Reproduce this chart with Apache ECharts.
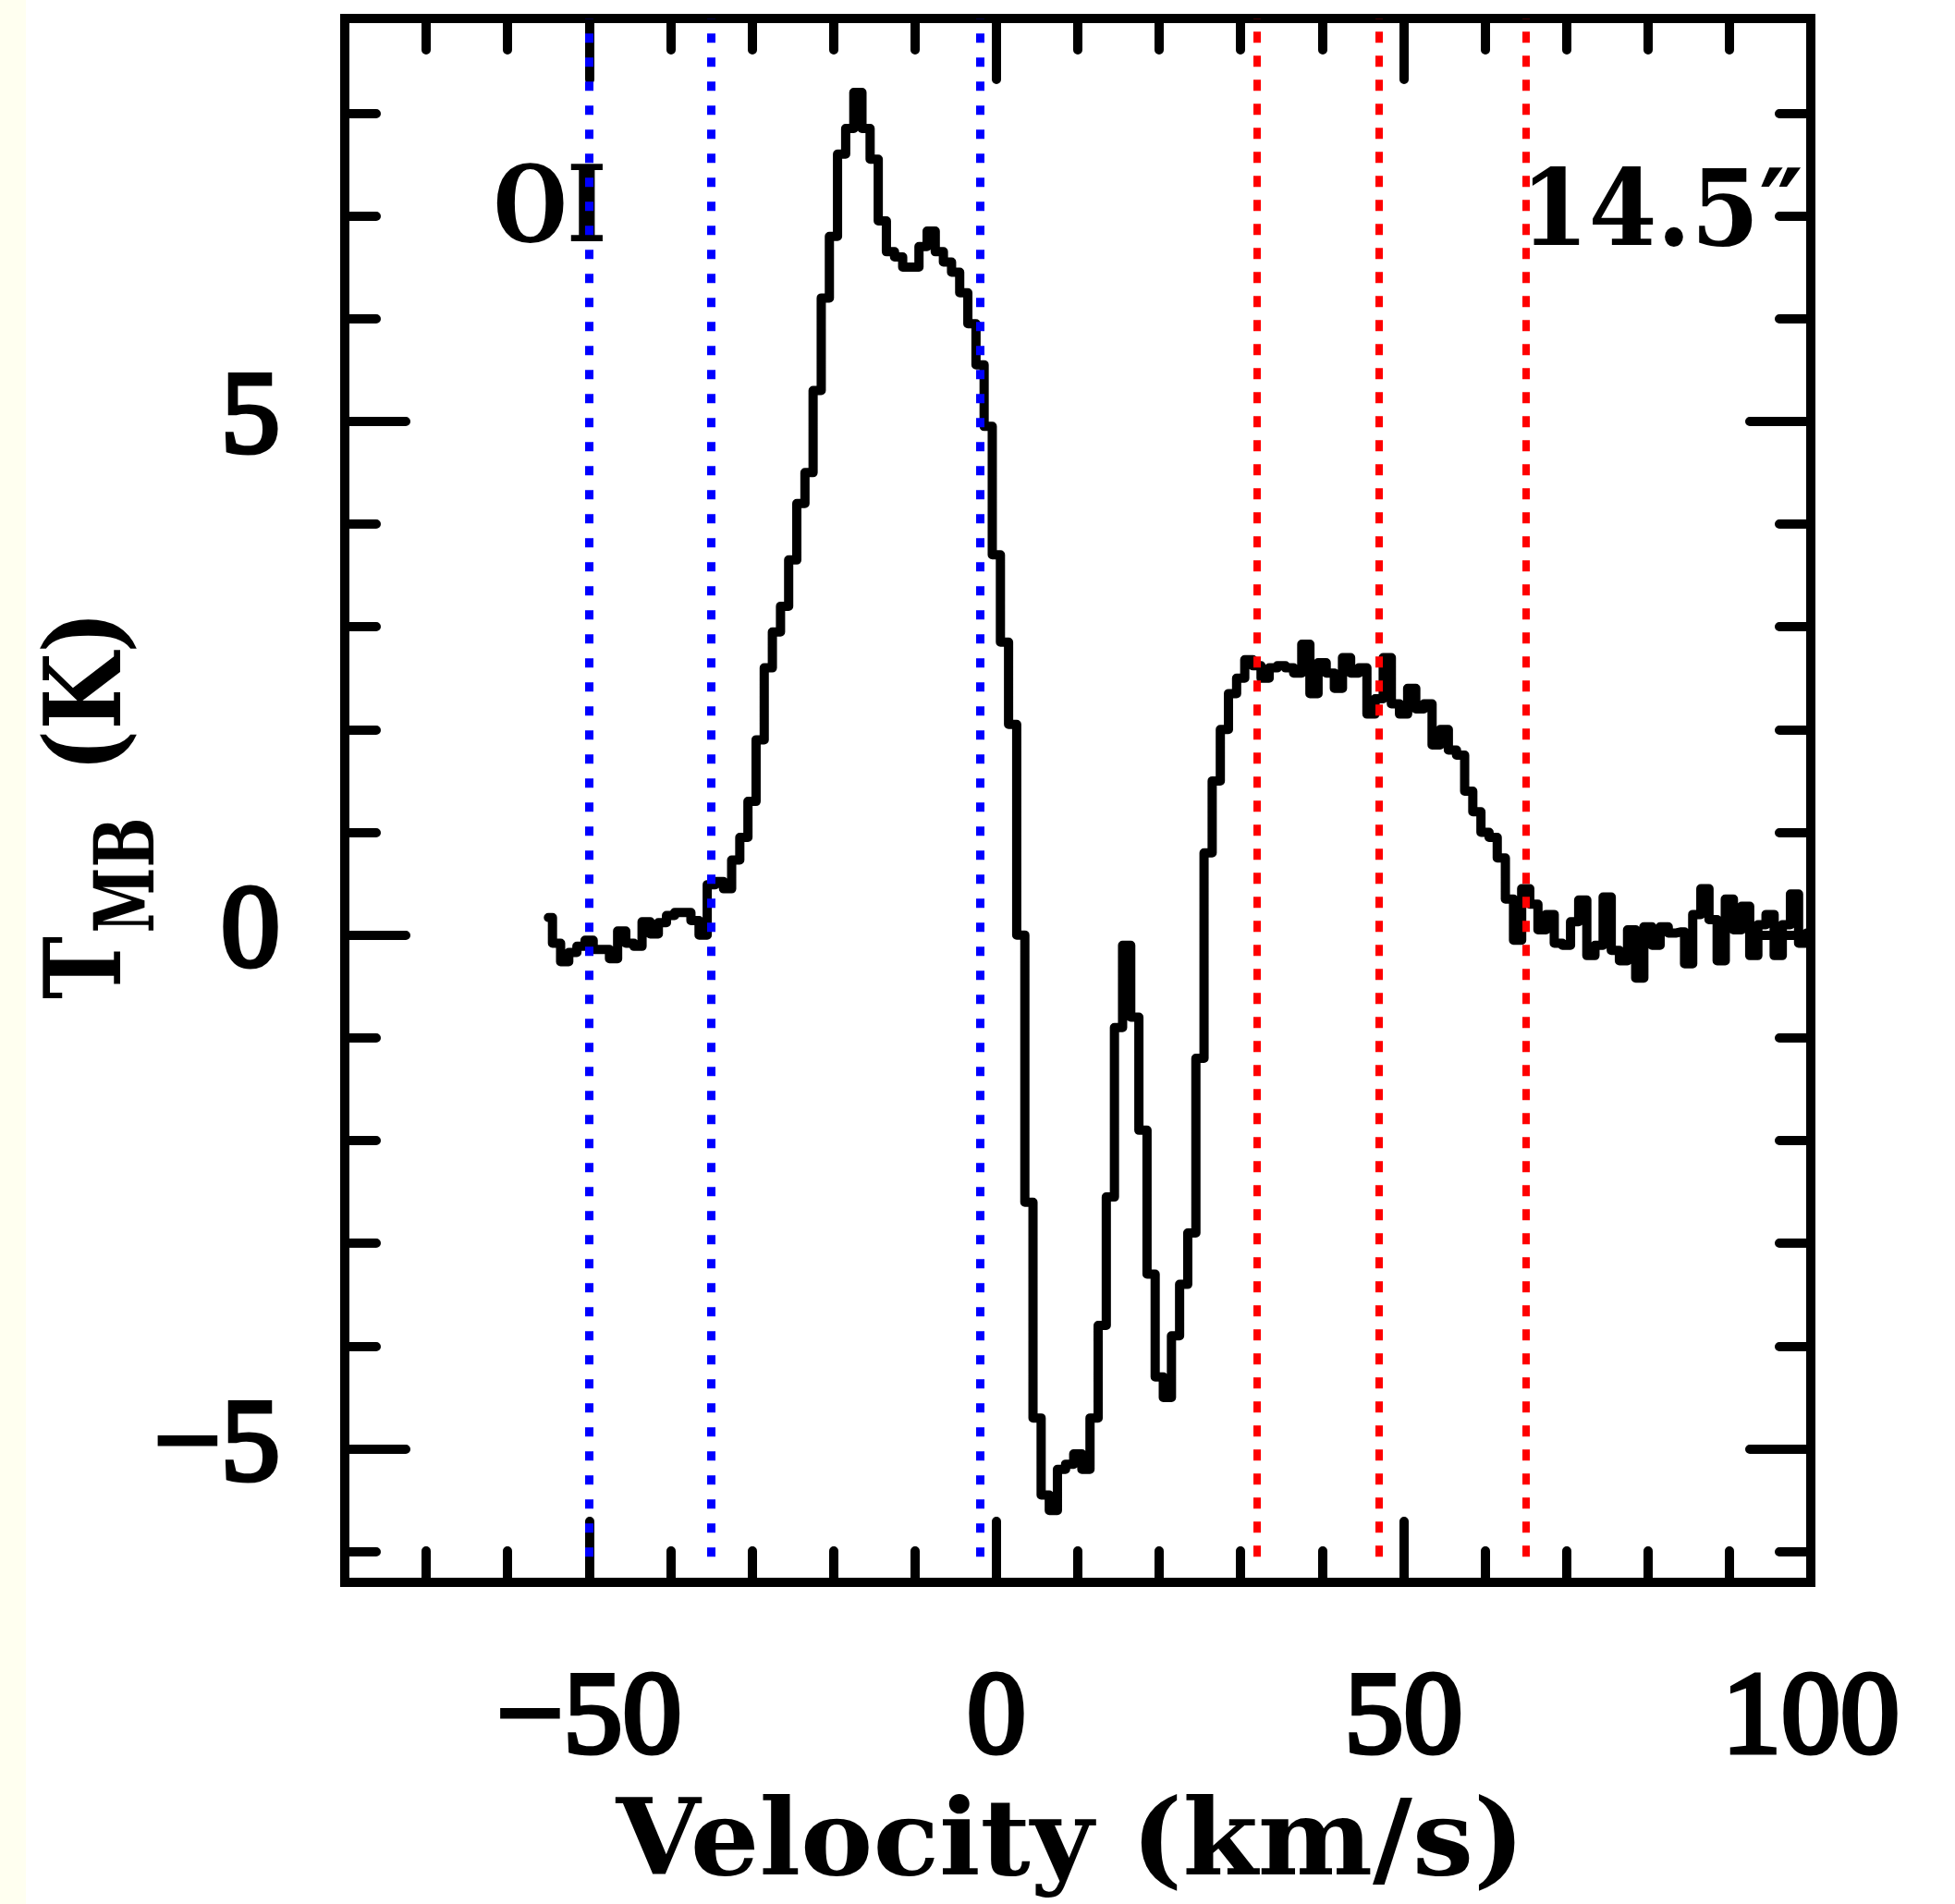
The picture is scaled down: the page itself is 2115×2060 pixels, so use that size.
<!DOCTYPE html>
<html>
<head>
<meta charset="utf-8">
<script src="https://cdn.jsdelivr.net/npm/echarts@6/dist/echarts.min.js"></script>
<style>
  html, body { margin: 0; padding: 0; background: #ffffff; }
  #chart { width: 2115px; height: 2060px; }
</style>
</head>
<body>
<div id="chart"></div>
<script>
// ---- Data (channel velocity in km/s, T_MB in K) ----
const velocity = [
  -55, -54, -53, -52, -51, -50, -49, -48, -47, -46, -45, -44, -43, -42, -41, -40,
  -39, -38, -37, -36, -35, -34, -33, -32, -31, -30, -29, -28, -27, -26, -25, -24,
  -23, -22, -21, -20, -19, -18, -17, -16, -15, -14, -13, -12, -11, -10, -9, -8,
  -7, -6, -5, -4, -3, -2, -1, 0, 1, 2, 3, 4, 5, 6, 7, 8, 9, 10, 11, 12, 13, 14,
  15, 16, 17, 18, 19, 20, 21, 22, 23, 24, 25, 26, 27, 28, 29, 30, 31, 32, 33, 34,
  35, 36, 37, 38, 39, 40, 41, 42, 43, 44, 45, 46, 47, 48, 49, 50, 51, 52, 53, 54,
  55, 56, 57, 58, 59, 60, 61, 62, 63, 64, 65, 66, 67, 68, 69, 70, 71, 72, 73, 74,
  75, 76, 77, 78, 79, 80, 81, 82, 83, 84, 85, 86, 87, 88, 89, 90, 91, 92, 93, 94,
  95, 96, 97, 98, 99, 100
];
const temperature = [
  0.17, -0.08, -0.26, -0.17, -0.11, -0.05, -0.14, -0.14, -0.23, 0.04, -0.08, -0.11, 0.13, 0.01, 0.12, 0.19,
  0.22, 0.22, 0.14, 0.0, 0.49, 0.52, 0.45, 0.73, 0.95, 1.3, 1.9, 2.6, 2.95, 3.2, 3.65, 4.2,
  4.5, 5.3, 6.2, 6.8, 7.6, 7.85, 8.2, 7.85, 7.55, 6.95, 6.65, 6.6, 6.5, 6.5, 6.7, 6.85,
  6.65, 6.55, 6.45, 6.25, 5.95, 5.55, 4.95, 3.7, 2.85, 2.05, 0.0, -2.6, -4.7, -5.45, -5.6, -5.2, -5.15, -5.05, -5.2, -4.7, -3.8, -2.55,
  -0.9, -0.1, -0.8, -1.9, -3.3, -4.3, -4.5, -3.9, -3.4, -2.9, -1.2, 0.8, 1.5, 2.0, 2.35, 2.5, 2.68, 2.62, 2.5, 2.6,
  2.62, 2.6, 2.55, 2.83, 2.35, 2.65, 2.55, 2.4, 2.7, 2.55, 2.6, 2.15, 2.3, 2.7, 2.25, 2.15, 2.4, 2.2, 2.25, 1.85,
  2.0, 1.8, 1.75, 1.4, 1.2, 1.0, 0.95, 0.75, 0.35, -0.05, 0.45, 0.3, 0.05, 0.2, -0.08, -0.1, 0.13, 0.34, -0.2, -0.1,
  0.37, -0.15, -0.25, 0.05, -0.42, 0.08, -0.1, 0.08, 0.02, 0.03, -0.28, 0.2, 0.45, 0.15, -0.25, 0.35, 0.05, 0.28, -0.2, 0.1,
  0.2, -0.2, 0.1, 0.4, -0.08, 0.02
];
const xMajorTicks = [-50, 0, 50, 100];
const yMinorTicks = [-6, -5, -4, -3, -2, -1, 0, 1, 2, 3, 4, 5, 6, 7, 8];
const yMajorTicks = [-5, 0, 5];
const blueLines = [-50, -35, -2];
const redLines = [32, 47, 65];
const lineLabel = 'OI';
const offsetLabel = '14.5\u2033';
const xTitle = 'Velocity (km/s)';

// ---- Style constants ----
const NUM_FONT = '"Liberation Serif", "DejaVu Serif", serif';
const TITLE_FONT = '"DejaVu Serif", "Liberation Serif", serif';
const X_MIN = -80, X_MAX = 100, Y_MIN = -6.3, Y_MAX = 8.92;
const LINE_BOTTOM = -6.05;
const LW = 10;

const fmt = v => (v < 0 ? '\u2212' + Math.abs(v) : String(v));
const labelStyle = (margin) => ({
  show: true, formatter: fmt, margin: margin, color: '#000',
  fontFamily: NUM_FONT, fontWeight: 'normal', fontSize: 128,
  textBorderColor: '#000', textBorderWidth: 5
});

function xAxisDef(pos, major) {
  return {
    type: 'value', position: pos, min: X_MIN, max: X_MAX,
    interval: major ? undefined : 10,
    axisLine: { show: !major, onZero: false, lineStyle: { color: '#000', width: LW, cap: 'square' } },
    axisTick: major
      ? { show: true, inside: true, length: 66, customValues: xMajorTicks, lineStyle: { color: '#000', width: LW, cap: 'round' } }
      : { show: true, inside: true, length: 34, lineStyle: { color: '#000', width: LW, cap: 'round' } },
    axisLabel: (major && pos === 'bottom')
      ? Object.assign(labelStyle(86), { customValues: xMajorTicks })
      : { show: false },
    splitLine: { show: false }
  };
}
function yAxisDef(pos, major) {
  return {
    type: 'value', position: pos, min: Y_MIN, max: Y_MAX,
    axisLine: { show: !major, onZero: false, lineStyle: { color: '#000', width: LW, cap: 'square' } },
    axisTick: { show: true, inside: true, length: major ? 66 : 34,
      customValues: major ? yMajorTicks : yMinorTicks,
      lineStyle: { color: '#000', width: LW, cap: 'round' } },
    axisLabel: (major && pos === 'left')
      ? Object.assign(labelStyle(70), { customValues: yMajorTicks })
      : { show: false },
    splitLine: { show: false }
  };
}

const chart = echarts.init(document.getElementById('chart'), null, { renderer: 'canvas', width: 2115, height: 2060 });

const vline = (x) => [{ coord: [x, LINE_BOTTOM] }, { coord: [x, Y_MAX] }];

function titleText(text, x, y, size, scaleX, align, rotated) {
  return {
    type: 'text', x: x, y: y, rotation: rotated ? Math.PI / 2 : 0, scaleX: scaleX, scaleY: 1,
    style: { text: text, font: 'bold ' + size + 'px ' + TITLE_FONT, fill: '#000',
             textAlign: align, textVerticalAlign: 'middle', align: align, verticalAlign: 'middle' }
  };
}

const option = {
  animation: false,
  backgroundColor: '#ffffff',
  grid: { left: 373, top: 20, width: 1586, height: 1692, containLabel: false },
  xAxis: [xAxisDef('bottom', false), xAxisDef('bottom', true), xAxisDef('top', false), xAxisDef('top', true)],
  yAxis: [yAxisDef('left', false), yAxisDef('left', true), yAxisDef('right', false), yAxisDef('right', true)],
  series: [
    {
      type: 'line', xAxisIndex: 0, yAxisIndex: 0,
      data: velocity.map((v, i) => [v, temperature[i]]),
      step: 'middle', showSymbol: false, symbol: 'none',
      lineStyle: { color: '#000', width: LW, join: 'round', cap: 'round' },
      z: 3
    },
    {
      type: 'line', xAxisIndex: 0, yAxisIndex: 0, data: [], z: 6, silent: true,
      markLine: {
        silent: true, symbol: ['none', 'none'], label: { show: false },
        lineStyle: { color: '#0000ff', width: 9, type: [10, 16], cap: 'butt' },
        data: blueLines.map(vline)
      }
    },
    {
      type: 'line', xAxisIndex: 0, yAxisIndex: 0, data: [], z: 6, silent: true,
      markLine: {
        silent: true, symbol: ['none', 'none'], label: { show: false },
        lineStyle: { color: '#ff0000', width: 8, type: [12, 14], cap: 'butt' },
        data: redLines.map(vline)
      }
    }
  ],
  graphic: [
    { type: 'rect', x: 0, y: 0, shape: { width: 28, height: 2060 }, style: { fill: '#fffff0' }, silent: true, z: -10 },
    titleText(xTitle, 1158, 1998, 114, 1.03, 'center', false),
    titleText('T', 100, 1047, 114, 0.8, 'center', true),
    titleText('MB', 143, 947, 89, 0.72, 'center', true),
    titleText('(K)', 100, 748, 114, 0.84, 'center', true),
    titleText(lineLabel, 534, 231, 114, 0.8, 'left', false),
    titleText(offsetLabel, 1645, 235, 114, 0.93, 'left', false)
  ]
};
chart.setOption(option);
</script>
</body>
</html>
